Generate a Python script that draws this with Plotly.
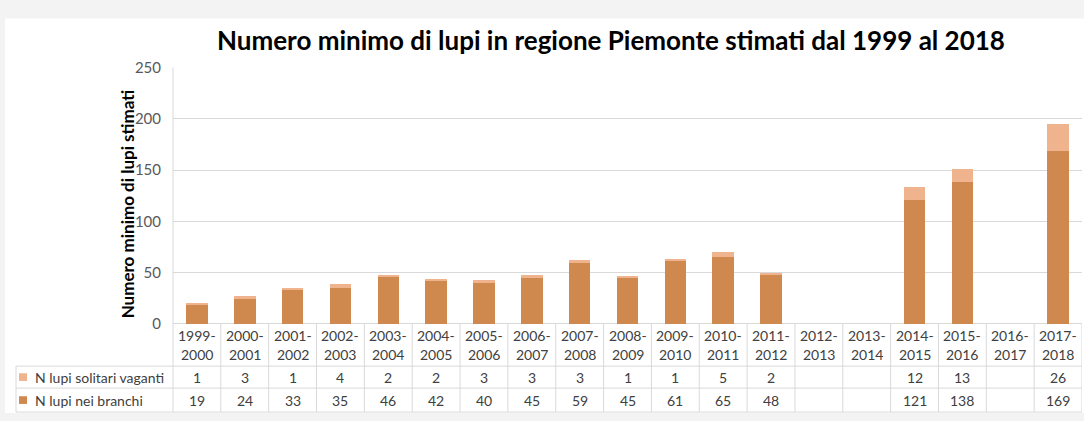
import plotly.graph_objects as go

W, H = 1084, 421

categorie = ["1999-2000", "2000-2001", "2001-2002", "2002-2003", "2003-2004",
             "2004-2005", "2005-2006", "2006-2007", "2007-2008", "2008-2009",
             "2009-2010", "2010-2011", "2011-2012", "2012-2013", "2013-2014",
             "2014-2015", "2015-2016", "2016-2017", "2017-2018"]
solitari_vaganti = [1, 3, 1, 4, 2, 2, 3, 3, 3, 1, 1, 5, 2, None, None, 12, 13, None, 26]
nei_branchi = [19, 24, 33, 35, 46, 42, 40, 45, 59, 45, 61, 65, 48, None, None, 121, 138, None, 169]
serie_nomi = ["N lupi solitari vaganti", "N lupi nei branchi"]
y_ticks = [0, 50, 100, 150, 200, 250]

COL_DARK = "#CF884D"
COL_LIGHT = "#EFB38E"
GRID = "#D9D9D9"
TXT = "#404040"
FONT = "Lato"
TABLE_SIZE = 14


def px(x):
    """pixel x -> paper fraction"""
    return x / W


def py(y):
    """pixel y (from top) -> paper fraction"""
    return 1 - y / H


x0_plot, x1_plot = 173, 1082
y_top, y_zero = 60, 328

fig = go.Figure()
fig.add_trace(go.Bar(x=categorie, y=nei_branchi, name=serie_nomi[1],
                     marker=dict(color=COL_DARK, line=dict(width=0))))
fig.add_trace(go.Bar(x=categorie, y=solitari_vaganti, name=serie_nomi[0],
                     marker=dict(color=COL_LIGHT, line=dict(width=0))))

shapes = []
# white chart area over the light grey page
shapes.append(dict(type="rect", xref="paper", yref="paper", x0=px(5), x1=px(W), y0=py(H), y1=py(9),
                   fillcolor="white", line=dict(width=0), layer="below"))

line = dict(color=GRID, width=1)
# data table grid
row1_top, row2_top, row_bot = 372, 395, 420
for yy in (row1_top, row2_top, row_bot):
    shapes.append(dict(type="line", xref="paper", yref="paper", x0=px(16), x1=px(x1_plot),
                       y0=py(yy), y1=py(yy), line=line))
shapes.append(dict(type="line", xref="paper", yref="paper", x0=px(16), x1=px(16),
                   y0=py(row1_top), y1=py(row_bot), line=line))
shapes.append(dict(type="line", xref="paper", yref="paper", x0=px(x0_plot), x1=px(x0_plot),
                   y0=py(y_top), y1=py(row_bot), line=line))
for i in range(len(categorie)):
    shapes.append(dict(type="line", xref="x", yref="paper", x0=i + 0.5, x1=i + 0.5,
                       y0=py(y_zero), y1=py(row_bot), line=line))

# legend keys in the table
for yy, col in ((383.5, COL_LIGHT), (407.5, COL_DARK)):
    shapes.append(dict(type="rect", xref="paper", yref="paper", x0=px(19), x1=px(27),
                       y0=py(yy + 4), y1=py(yy - 4), fillcolor=col, line=dict(width=0)))

annotations = []
annotations.append(dict(text="<b>Numero minimo di lupi in regione Piemonte stimati dal 1999 al 2018</b>",
                        xref="paper", yref="paper", x=px(611), y=py(31), showarrow=False,
                        font=dict(family=FONT, size=26, color="black"),
                        xanchor="center", yanchor="middle"))
annotations.append(dict(text="<b>Numero minimo di lupi stimati</b>", textangle=-90,
                        xref="paper", yref="paper", x=px(127), y=py(203), showarrow=False,
                        font=dict(family=FONT, size=17, color="black"),
                        xanchor="center", yanchor="middle"))
for yy, nome in ((383.5, serie_nomi[0]), (407.5, serie_nomi[1])):
    annotations.append(dict(text=nome, xref="paper", yref="paper", x=px(33), y=py(yy),
                            showarrow=False, xanchor="left", yanchor="middle",
                            font=dict(family=FONT, size=TABLE_SIZE, color=TXT)))

for i, cat in enumerate(categorie):
    a, b = cat.split("-")
    annotations.append(dict(text=a + "-", xref="x", yref="paper", x=i, y=py(340),
                            showarrow=False, xanchor="center", yanchor="middle",
                            font=dict(family=FONT, size=TABLE_SIZE, color=TXT)))
    annotations.append(dict(text=b, xref="x", yref="paper", x=i, y=py(360),
                            showarrow=False, xanchor="center", yanchor="middle",
                            font=dict(family=FONT, size=TABLE_SIZE, color=TXT)))
    for yy, serie in ((383.5, solitari_vaganti), (407.5, nei_branchi)):
        if serie[i] is not None:
            annotations.append(dict(text=str(serie[i]), xref="x", yref="paper", x=i, y=py(yy),
                                    showarrow=False, xanchor="center", yanchor="middle",
                                    font=dict(family=FONT, size=TABLE_SIZE, color=TXT)))

fig.update_layout(
    width=W, height=H,
    margin=dict(l=0, r=0, t=0, b=0),
    paper_bgcolor="#F3F3F3",
    plot_bgcolor="rgba(0,0,0,0)",
    barmode="stack",
    bargap=0.55,
    showlegend=False,
    font=dict(family=FONT),
    shapes=shapes,
    annotations=annotations,
    xaxis=dict(domain=[px(x0_plot), px(x1_plot)], type="category",
               categoryorder="array", categoryarray=categorie,
               showticklabels=False, showgrid=False, zeroline=False, showline=False,
               range=[-0.5, len(categorie) - 0.5]),
    yaxis=dict(domain=[py(y_zero), py(y_top)], range=[0, 250], tickvals=y_ticks,
               showgrid=True, gridcolor=GRID, gridwidth=1, zeroline=True,
               zerolinecolor=GRID, zerolinewidth=1, showline=False,
               ticks="", ticklabelstandoff=11,
               tickfont=dict(family=FONT, size=15, color="#595959")),
)

fig.write_html("out.html")
